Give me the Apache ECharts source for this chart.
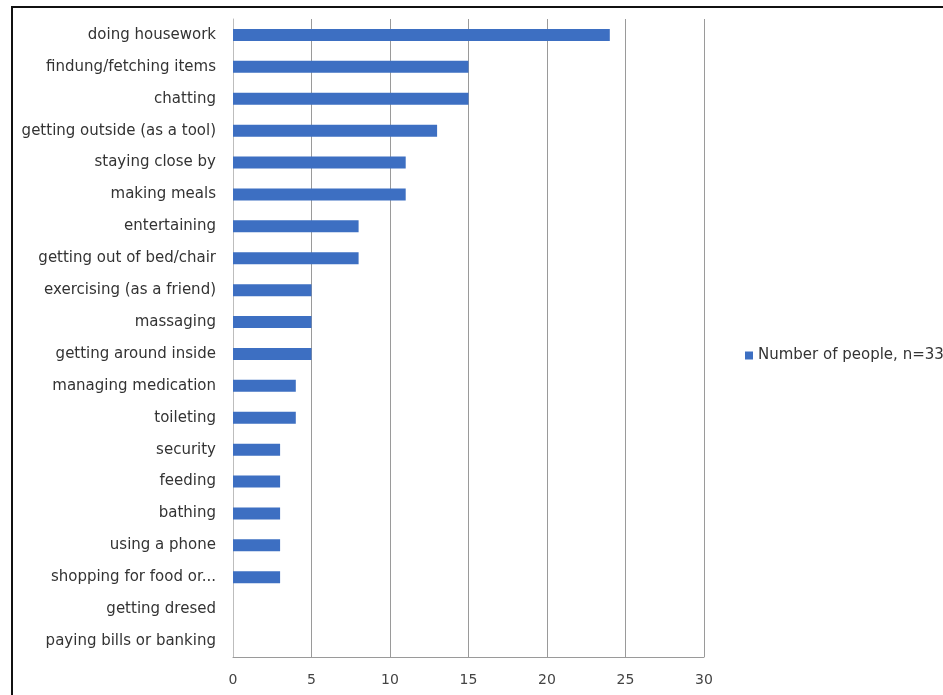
<!DOCTYPE html>
<html>
<head>
<meta charset="utf-8">
<script src="https://cdn.jsdelivr.net/npm/echarts@6/dist/echarts.min.js"></script>
<style>
  html, body { margin: 0; padding: 0; background: #fff; }
  #chart { width: 943px; height: 695px; position: absolute; left: 0; top: 0; }
  #frame { position: absolute; left: 11px; top: 6px; width: 960px; height: 720px;
           border-left: 2px solid #111; border-top: 2px solid #111; pointer-events: none; }
</style>
</head>
<body>
<div id="chart"></div>
<div id="frame"></div>
<script>
// categories listed top to bottom as in the picture
const activities = [
  "doing housework",
  "findung/fetching items",
  "chatting",
  "getting outside (as a tool)",
  "staying close by",
  "making meals",
  "entertaining",
  "getting out of bed/chair",
  "exercising (as a friend)",
  "massaging",
  "getting around inside",
  "managing medication",
  "toileting",
  "security",
  "feeding",
  "bathing",
  "using a phone",
  "shopping for food or...",
  "getting dresed",
  "paying bills or banking"
];
const peopleCounts = [24, 15, 15, 13, 11, 11, 8, 8, 5, 5, 5, 4, 4, 3, 3, 3, 3, 3, 0, 0];
const seriesName = "Number of people, n=33";
const xTicks = { min: 0, max: 30, interval: 5 };

const chart = echarts.init(document.getElementById("chart"));
const labelFont = "'DejaVu Sans', sans-serif";

chart.setOption({
  animation: false,
  backgroundColor: "#ffffff",
  grid: { left: 233, right: 239, top: 19, bottom: 38, containLabel: false },
  legend: {
    data: [seriesName],
    left: 740,
    top: 343,
    itemWidth: 8,
    itemHeight: 8,
    itemGap: 5,
    icon: "rect",
    textStyle: { fontFamily: labelFont, fontSize: 15, color: "#333" }
  },
  xAxis: {
    type: "value",
    min: xTicks.min,
    max: xTicks.max,
    interval: xTicks.interval,
    axisLine: { show: true, lineStyle: { color: "#9a9a9a", width: 1 } },
    axisTick: { show: false },
    splitLine: { show: true, lineStyle: { color: "#9a9a9a", width: 1 } },
    axisLabel: { fontFamily: labelFont, fontSize: 14, color: "#444", margin: 16 }
  },
  yAxis: {
    type: "category",
    data: activities,
    inverse: true,
    axisLine: { show: true, lineStyle: { color: "#bdbdbd", width: 1 } },
    axisTick: { show: false },
    axisLabel: { fontFamily: labelFont, fontSize: 15, color: "#333", margin: 17 }
  },
  series: [{
    name: seriesName,
    type: "bar",
    data: peopleCounts,
    barWidth: 12,
    itemStyle: { color: "#3d6fc2" }
  }]
});
</script>
</body>
</html>
